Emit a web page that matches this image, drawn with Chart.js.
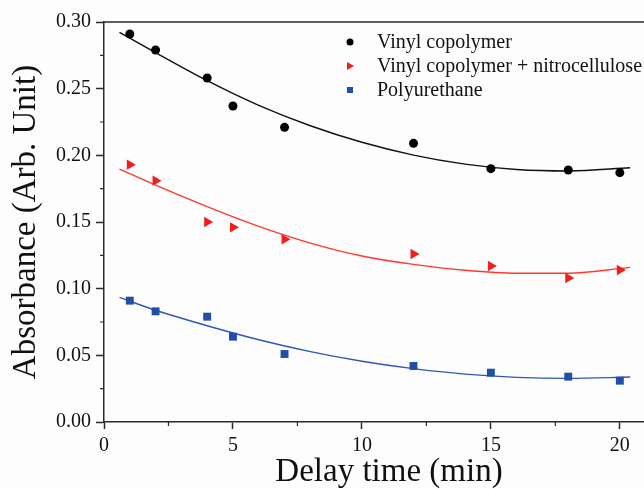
<!DOCTYPE html>
<html>
<head>
<meta charset="utf-8">
<script src="https://cdn.jsdelivr.net/npm/chart.js@4.4.0/dist/chart.umd.min.js"></script>
<style>
  html, body { margin: 0; padding: 0; background: #fdfdfd; overflow: hidden; }
  #wrap { width: 644px; height: 489px; overflow: hidden; }
</style>
</head>
<body>
<div id="wrap"><canvas id="chart" width="680" height="489"></canvas></div>
<script>
// measured points
const delayTimes = [1, 2, 4, 5, 7, 12, 15, 18, 20];
const vinyl = [0.291, 0.279, 0.258, 0.237, 0.221, 0.209, 0.190, 0.189, 0.187];
const vinylNitro = [0.193, 0.181, 0.150, 0.146, 0.137, 0.126, 0.117, 0.108, 0.114];
const polyurethane = [0.091, 0.083, 0.079, 0.064, 0.051, 0.042, 0.037, 0.034, 0.031];

// fitted curves
const fitTimes = [0.6, 2, 4, 6, 8, 10, 12, 14, 16, 18, 20.4];
const fitVinyl = [0.2922, 0.2770, 0.2560, 0.2375, 0.2222, 0.2098, 0.2002, 0.1934, 0.1894, 0.1883, 0.1907];
const fitVinylNitro = [0.1897, 0.1776, 0.1615, 0.1467, 0.1342, 0.1245, 0.1182, 0.1138, 0.1116, 0.1116, 0.1160];
const fitPolyurethane = [0.0935, 0.0838, 0.0722, 0.0617, 0.0528, 0.0456, 0.0400, 0.0359, 0.0335, 0.0327, 0.0337];

const seriesNames = ['Vinyl copolymer', 'Vinyl copolymer + nitrocellulose', 'Polyurethane'];
const xTicks = [0, 5, 10, 15, 20];
const yTicks = [0.00, 0.05, 0.10, 0.15, 0.20, 0.25, 0.30];

const serif = "'Liberation Serif', 'Times New Roman', serif";

function toXY(xs, ys) {
  return xs.map((x, i) => ({ x: x, y: ys[i] }));
}

function pointSet(label, values, color, style, radius, rotation) {
  return {
    label: label,
    data: toXY(delayTimes, values),
    showLine: false,
    pointStyle: style,
    pointRadius: radius,
    pointRotation: rotation || 0,
    pointBackgroundColor: color,
    pointBorderColor: color,
    pointBorderWidth: 0,
    inLegend: true,
    order: 1
  };
}

function fitSet(values, color) {
  return {
    label: 'fit',
    data: toXY(fitTimes, values),
    showLine: true,
    borderColor: color,
    borderWidth: 1.4,
    pointRadius: 0,
    cubicInterpolationMode: 'monotone',
    fill: false,
    inLegend: false,
    order: 2
  };
}

// minor ticks + top frame line
const frameAndMinorTicks = {
  id: 'frameAndMinorTicks',
  afterDraw(chart) {
    const ctx = chart.ctx;
    const area = chart.chartArea;
    const xs = chart.scales.x;
    const ys = chart.scales.y;
    ctx.save();
    ctx.strokeStyle = '#2a2a2a';
    ctx.lineWidth = 1.5;
    ctx.beginPath();
    ctx.moveTo(area.left, area.top);
    ctx.lineTo(area.right, area.top);
    ctx.stroke();
    ctx.lineWidth = 1.2;
    ctx.beginPath();
    for (let v = 2.5; v < xs.max; v += 5) {
      const px = xs.getPixelForValue(v);
      ctx.moveTo(px, area.bottom);
      ctx.lineTo(px, area.bottom + 4);
    }
    for (let v = 0.025; v < ys.max; v += 0.05) {
      const py = ys.getPixelForValue(v);
      ctx.moveTo(area.left, py);
      ctx.lineTo(area.left - 4, py);
    }
    ctx.stroke();
    ctx.restore();
  }
};

// legend inside the plot, top right
const innerLegend = {
  id: 'innerLegend',
  afterDraw(chart) {
    const ctx = chart.ctx;
    const area = chart.chartArea;
    const markerX = area.left + 246;
    const textX = area.left + 273;
    const rowY = [area.top + 20, area.top + 44, area.top + 68];
    ctx.save();
    ctx.font = '20px ' + serif;
    ctx.textBaseline = 'middle';
    let row = 0;
    chart.data.datasets.forEach(ds => {
      if (!ds.inLegend) return;
      const y = rowY[row];
      ctx.fillStyle = ds.pointBackgroundColor;
      ctx.beginPath();
      if (ds.pointStyle === 'circle') {
        ctx.arc(markerX, y, 3.5, 0, Math.PI * 2);
      } else if (ds.pointStyle === 'triangle') {
        ctx.moveTo(markerX - 3, y - 4);
        ctx.lineTo(markerX + 4, y);
        ctx.lineTo(markerX - 3, y + 4);
        ctx.closePath();
      } else {
        ctx.rect(markerX - 3, y - 3, 6, 6);
      }
      ctx.fill();
      ctx.fillStyle = '#111';
      ctx.fillText(ds.label, textX, y + 1);
      row++;
    });
    ctx.restore();
  }
};

new Chart(document.getElementById('chart'), {
  type: 'line',
  data: {
    datasets: [
      fitSet(fitVinyl, '#111111'),
      fitSet(fitVinylNitro, '#ff3a2a'),
      fitSet(fitPolyurethane, '#3355b5'),
      pointSet(seriesNames[0], vinyl, '#000000', 'circle', 4.5),
      pointSet(seriesNames[1], vinylNitro, '#f01e1e', 'triangle', 6, 90),
      pointSet(seriesNames[2], polyurethane, '#1f4fa6', 'rect', 5.6)
    ]
  },
  options: {
    responsive: false,
    animation: false,
    layout: { padding: { top: 22, left: 6, right: 0, bottom: 2 } },
    plugins: {
      legend: { display: false },
      tooltip: { enabled: false }
    },
    scales: {
      x: {
        type: 'linear',
        min: 0,
        max: 22.1,
        afterBuildTicks(scale) {
          scale.ticks = xTicks.map(v => ({ value: v }));
        },
        afterFit(scale) {
          scale.height = 65;
        },
        ticks: {
          color: '#111',
          font: { family: serif, size: 20, lineHeight: 1.0 },
          padding: 7,
          maxRotation: 0,
          callback: v => String(v)
        },
        grid: {
          drawOnChartArea: false,
          drawTicks: true,
          tickLength: 7,
          tickColor: '#2a2a2a',
          tickWidth: 1.5
        },
        border: { display: true, color: '#2a2a2a', width: 1.5 },
        title: {
          display: true,
          text: 'Delay time (min)',
          color: '#111',
          font: { family: serif, size: 33, lineHeight: 0.9 },
          padding: { top: 3, bottom: 0 }
        }
      },
      y: {
        type: 'linear',
        min: 0,
        max: 0.30,
        afterBuildTicks(scale) {
          scale.ticks = yTicks.map(v => ({ value: v }));
        },
        ticks: {
          color: '#111',
          font: { family: serif, size: 20 },
          padding: 5,
          callback: v => v.toFixed(2)
        },
        grid: {
          drawOnChartArea: false,
          drawTicks: true,
          tickLength: 8,
          tickColor: '#2a2a2a',
          tickWidth: 1.5
        },
        border: { display: true, color: '#2a2a2a', width: 1.5 },
        title: {
          display: true,
          text: 'Absorbance (Arb. Unit)',
          color: '#111',
          font: { family: serif, size: 33, lineHeight: 1.0 },
          padding: { top: 4, bottom: 8 }
        }
      }
    }
  },
  plugins: [frameAndMinorTicks, innerLegend]
});
</script>
</body>
</html>
